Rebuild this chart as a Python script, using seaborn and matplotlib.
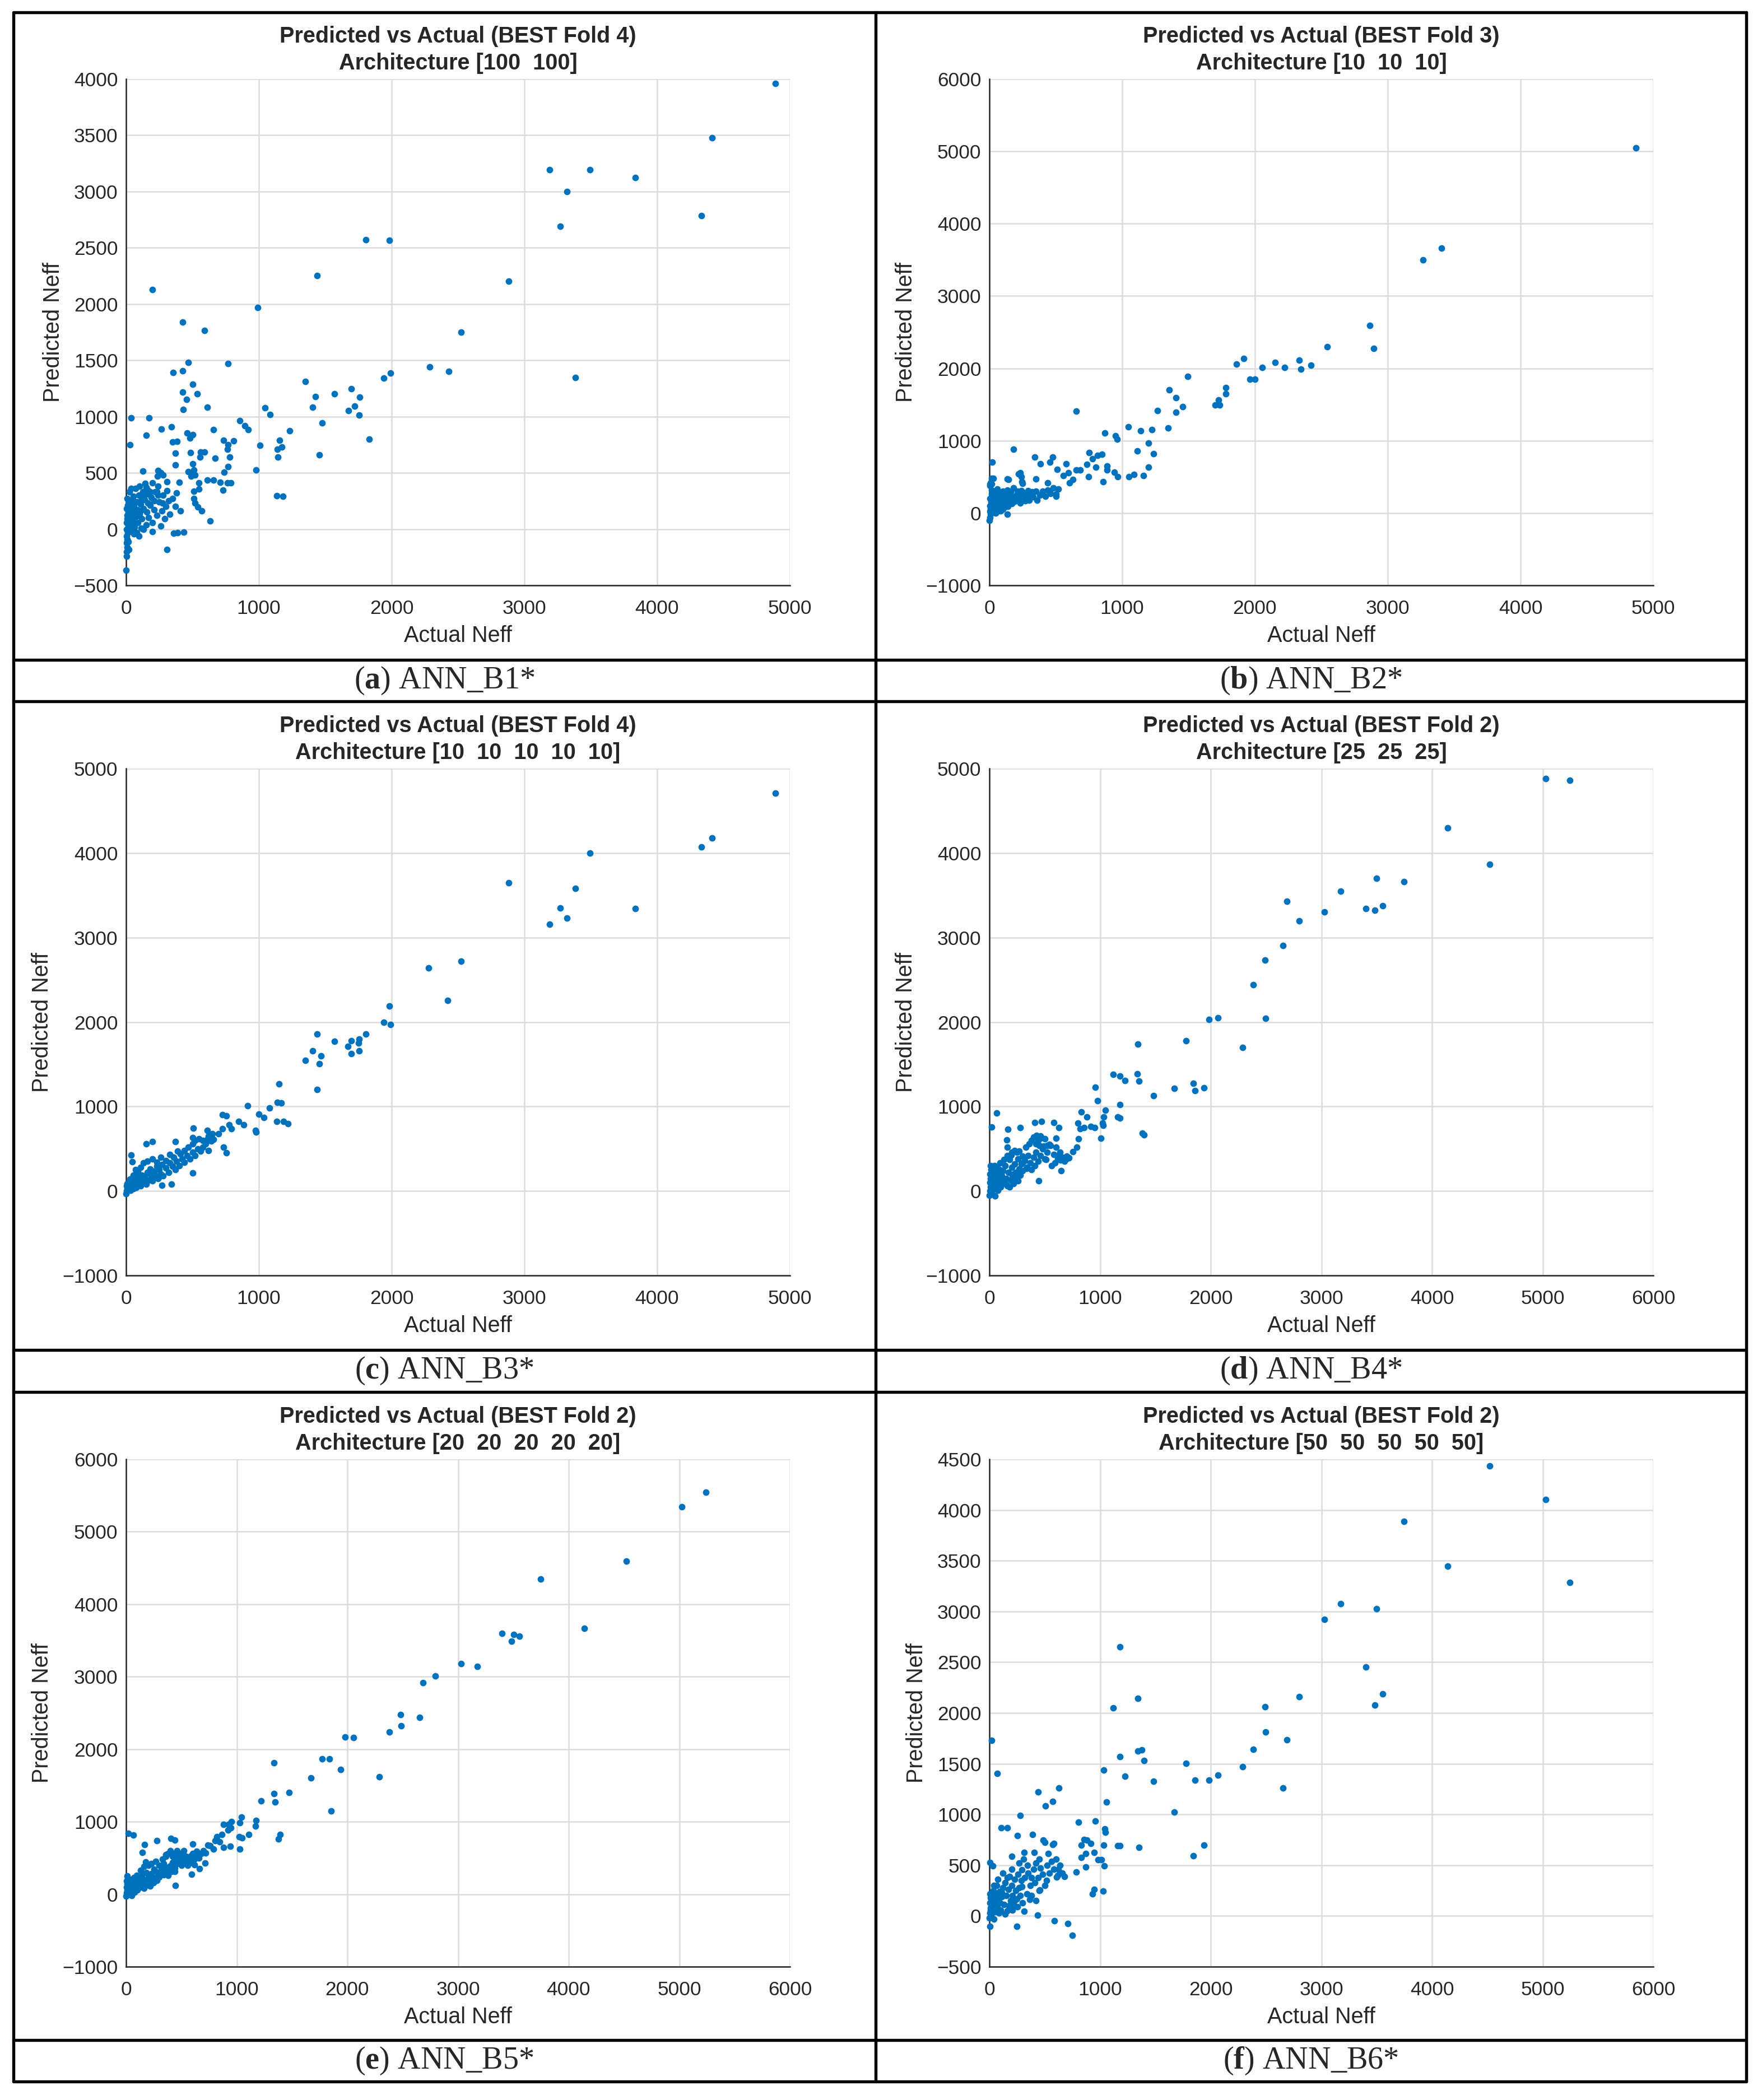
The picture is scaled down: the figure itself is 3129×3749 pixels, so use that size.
import matplotlib
matplotlib.use("Agg")
import matplotlib.pyplot as plt
from matplotlib.lines import Line2D
import seaborn as sns

# --- data: (actual, predicted) per panel ---
a_points = [
    (4890, 3960), (4415, 3475), (4335, 2785), (3835, 3125), (3495, 3195), (3385, 1345),
    (3320, 3000), (3270, 2690), (3190, 3195), (2880, 2205), (2525, 1750), (2430, 1400),
    (2285, 1440), (1985, 2565), (1990, 1385), (1940, 1340), (1805, 2570), (1830, 800),
    (1760, 1175), (1755, 1015), (1720, 1095), (1695, 1245), (1675, 1055), (1570, 1200),
    (1475, 945), (1455, 660), (1440, 2255), (1425, 1180), (1405, 1085), (1350, 1310),
    (1230, 875), (1180, 290), (1175, 730), (1155, 790), (1145, 640), (1140, 710),
    (1135, 295), (1085, 1020), (1045, 1080), (1010, 745), (990, 1970), (980, 525),
    (920, 885), (895, 920), (855, 965), (810, 785), (790, 410), (780, 640), (770, 555),
    (770, 1470), (770, 750), (765, 410), (765, 710), (740, 505), (735, 790), (730, 345),
    (710, 415), (660, 885), (670, 630), (660, 435), (610, 1085), (610, 435), (590, 1765),
    (590, 685), (560, 685), (555, 640), (550, 410), (570, 160), (540, 195), (520, 230),
    (510, 270), (510, 335), (550, 355), (500, 1285), (500, 840), (480, 810), (460, 855),
    (500, 580), (470, 510), (500, 500), (520, 480), (490, 470), (510, 525), (485, 680),
    (470, 1480), (455, 1155), (430, 1065), (425, 1840), (425, 1215), (425, 1405),
    (535, 1200), (355, 1390), (385, 780), (350, 775), (370, 675), (370, 570), (400, 415),
    (340, 910), (265, 890), (175, 990), (150, 835), (40, 990), (30, 750), (200, 2130),
    (240, 520), (235, 470), (125, 515), (145, 405), (635, 70), (360, -35), (435, -25),
    (310, -180), (0, -366),
    (5, -240), (5, -200), (8, -160), (5, -120), (10, -90), (3, -60), (12, -30), (6, 0),
    (15, 30), (4, 60), (10, 90), (8, 120), (18, 150), (5, 180), (12, 210), (20, 250),
    (8, 270), (25, -20), (30, 40), (35, 100), (40, 160), (45, -10), (50, 70), (55, 130),
    (60, 200), (65, 20), (70, 240), (75, 110), (80, -30), (85, 170), (90, 60), (95, 300),
    (100, 130), (110, 220), (115, 10), (120, 90), (125, 330), (130, 180), (140, 260),
    (150, 40), (155, 150), (160, 350), (170, 100), (180, 210), (190, 280), (200, 60),
    (210, 170), (220, 330), (230, 120), (240, 380), (250, 240), (260, 30), (270, 160),
    (280, 300), (290, 90), (300, 200), (310, 340), (320, 250), (330, 130), (350, 270),
    (370, 200), (380, 320), (390, -30), (410, 160), (40, 360), (70, 360), (60, -40),
    (130, 0), (200, -20), (95, -60), (20, -180), (100, 380), (150, 370), (170, 310),
    (200, 410), (230, 330), (260, 500), (280, 480), (180, 330), (240, 300), (310, 420),
    (140, 300), (20, 120), (30, 200), (15, -110), (45, 250), (60, 30), (110, 160),
    (25, 330), (85, 240), (55, 290), (120, 260), (165, 230), (210, 250), (275, 230),
]

b_points = [
    (4870, 5050), (3405, 3660), (3265, 3500), (2865, 2590), (2895, 2275), (2545, 2300),
    (2420, 2040), (2335, 2110), (2345, 1990), (2225, 2010), (2150, 2085), (2055, 2010),
    (2000, 1850), (1960, 1850), (1915, 2135), (1860, 2055), (1780, 1730), (1780, 1650),
    (1725, 1565), (1700, 1495), (1735, 1490), (1495, 1885), (1355, 1705), (1405, 1595),
    (1455, 1470), (1405, 1390), (1265, 1415), (1345, 1175), (1225, 1155), (1140, 1140),
    (1045, 1195), (1200, 970), (1235, 820), (1115, 855), (1200, 635), (1160, 520),
    (1090, 530), (1050, 500), (950, 1070), (960, 1020), (870, 1105), (965, 500), (940, 565),
    (885, 650), (885, 595), (855, 435), (850, 810), (815, 800), (800, 635), (775, 750),
    (750, 835), (745, 500), (735, 670), (655, 1410), (685, 595), (655, 595), (630, 465),
    (605, 420), (580, 680), (595, 555), (555, 515), (510, 605), (500, 235), (475, 775),
    (455, 700), (440, 420), (385, 680), (340, 775), (350, 470), (310, 280), (300, 175),
    (230, 555), (245, 435), (180, 885), (145, 465), (135, -20), (20, 700), (5, 390),
    (15, 480),
    (0, -100), (5, -60), (8, -20), (3, 20), (10, 60), (5, 100), (12, 150), (6, 200),
    (15, 260), (18, 320), (4, 380), (10, 420), (25, 30), (30, 80), (35, 130), (40, 180),
    (45, 0), (50, 110), (55, 220), (60, 60), (65, 150), (70, 260), (75, 100), (80, 180),
    (85, 30), (90, 230), (95, 120), (100, 300), (105, 170), (110, 80), (115, 250),
    (120, 140), (130, 200), (135, 320), (140, 90), (150, 250), (155, 170), (160, 290),
    (170, 130), (175, 210), (180, 350), (190, 160), (200, 240), (210, 300), (215, 190),
    (225, 260), (230, 140), (240, 310), (250, 220), (260, 280), (270, 170), (280, 240),
    (290, 310), (300, 200), (320, 290), (330, 220), (350, 300), (360, 180), (380, 250),
    (400, 300), (420, 230), (440, 320), (460, 270), (480, 350), (500, 260), (520, 330),
    (40, 280), (60, 330), (25, 250), (15, 400), (30, 480), (135, 470), (220, 540),
    (240, 500), (250, 410), (20, 150), (45, 70), (70, 30), (100, 50), (125, 90), (60, 190),
]

c_points = [
    (4890, 4710), (4415, 4180), (4335, 4075), (3835, 3340), (3495, 4000), (3385, 3580),
    (3320, 3230), (3270, 3350), (3190, 3160), (2880, 3650), (2525, 2720), (2420, 2255),
    (2280, 2640), (1985, 2190), (1990, 1970), (1940, 2000), (1805, 1855), (1750, 1750),
    (1755, 1800), (1695, 1775), (1670, 1710), (1695, 1625), (1755, 1660), (1570, 1770),
    (1470, 1600), (1455, 1505), (1440, 1855), (1440, 1200), (1405, 1660), (1350, 1545),
    (1150, 1265), (1140, 1050), (1170, 1045), (1135, 820), (1185, 820), (1220, 795),
    (1080, 980), (1040, 870), (1000, 910), (975, 715), (980, 700), (915, 1010), (885, 785),
    (850, 820), (725, 900), (755, 890), (775, 785), (795, 740), (725, 735), (735, 520),
    (755, 450), (695, 675), (610, 610), (505, 745), (610, 715), (660, 610), (500, 210),
    (370, 585), (200, 585), (150, 560), (40, 425), (45, 345), (340, 80), (270, 65),
    (0, -30), (5, 0), (8, 30), (3, 60), (10, 90), (15, 20), (20, 110), (25, 50), (30, 80),
    (35, 10), (40, 130), (45, 60), (50, 100), (55, 30), (60, 150), (65, 80), (70, 120),
    (75, 40), (80, 170), (90, 90), (100, 140), (110, 60), (120, 190), (130, 110),
    (140, 160), (150, 80), (160, 220), (170, 130), (180, 260), (190, 170), (200, 120),
    (210, 230), (220, 190), (230, 290), (240, 150), (250, 250), (260, 200), (270, 310),
    (280, 180), (300, 270), (320, 220), (330, 330), (350, 290), (370, 250), (380, 350),
    (400, 300), (420, 380), (440, 340), (460, 420), (480, 380), (500, 460), (520, 420),
    (540, 500), (560, 470), (580, 520), (600, 560), (620, 480), (640, 590), (70, 250),
    (90, 230), (110, 280), (130, 330), (160, 350), (200, 380), (230, 340), (260, 400),
    (300, 360), (330, 430), (360, 400), (390, 470), (410, 440), (440, 480), (470, 520),
    (500, 560), (520, 600), (550, 620), (580, 600), (620, 650), (650, 680), (500, 630),
    (15, 70), (30, 140), (55, 190), (85, 60), (120, 100), (180, 200), (250, 170),
]

d_points = [
    (5030, 4880), (5245, 4860), (4140, 4300), (4520, 3865), (3745, 3660), (3500, 3700),
    (3555, 3375), (3485, 3325), (3400, 3345), (3175, 3550), (3030, 3305), (2800, 3195),
    (2690, 3430), (2655, 2905), (2490, 2730), (2495, 2040), (2385, 2440), (2290, 1700),
    (2065, 2050), (1985, 2030), (1940, 1220), (1845, 1275), (1860, 1190), (1775, 1775),
    (1670, 1215), (1485, 1125), (1340, 1735), (1335, 1390), (1350, 1300), (1120, 1380),
    (1180, 1360), (1225, 1310), (1380, 685), (1395, 665), (1180, 1020), (1160, 875),
    (1180, 860), (955, 1230), (975, 1070), (1050, 955), (1035, 875), (1025, 805),
    (1030, 780), (1010, 625), (830, 935), (880, 875), (800, 805), (820, 740), (855, 750),
    (915, 765), (950, 750), (805, 620), (790, 520), (755, 465), (715, 395), (690, 370),
    (645, 365), (650, 240), (630, 750), (580, 810), (470, 820), (410, 810), (600, 625),
    (630, 425), (590, 335), (550, 540), (510, 370), (490, 530), (425, 660), (450, 620),
    (445, 120), (280, 750), (165, 730), (155, 605), (160, 515), (65, 925), (20, 755),
    (195, 425), (250, 460), (300, 330), (335, 265),
    (0, -50), (5, 0), (10, 50), (3, 100), (12, 150), (6, 200), (15, 250), (8, 300),
    (20, -20), (25, 80), (30, 130), (35, 180), (40, 30), (45, 230), (50, -60), (55, 120),
    (60, 60), (65, 170), (70, 270), (75, 10), (80, 140), (85, 200), (90, 90), (95, 330),
    (100, 50), (110, 180), (120, 240), (130, 100), (140, 300), (150, 150), (160, 60),
    (170, 220), (180, 370), (190, 130), (200, 280), (210, 180), (220, 90), (230, 320),
    (240, 220), (250, 150), (260, 380), (270, 260), (280, 190), (290, 320), (300, 240),
    (320, 360), (340, 280), (350, 420), (370, 330), (380, 250), (400, 400), (410, 300),
    (420, 460), (440, 350), (450, 540), (460, 420), (480, 500), (500, 380), (520, 460),
    (540, 550), (560, 300), (580, 430), (600, 520), (620, 380), (640, 460), (660, 400),
    (680, 350), (700, 410), (720, 390), (130, 370), (160, 420), (200, 460), (230, 480),
    (270, 470), (300, 410), (330, 520), (360, 560), (380, 600), (400, 640), (420, 560),
    (440, 600), (460, 650), (470, 630), (500, 620), (520, 540), (30, 40), (60, 110),
    (100, 160), (140, 90), (180, 50), (220, 200), (260, 120), (45, 300), (90, 250),
]

e_points = [
    (5240, 5545), (5025, 5340), (4520, 4590), (3745, 4350), (4140, 3665), (3400, 3600),
    (3505, 3580), (3555, 3555), (3485, 3490), (3175, 3140), (3030, 3180), (2795, 3010),
    (2685, 2920), (2655, 2440), (2480, 2475), (2485, 2325), (2380, 2235), (2290, 1620),
    (2055, 2160), (1980, 2165), (1940, 1720), (1770, 1870), (1840, 1870), (1855, 1150),
    (1670, 1605), (1475, 1400), (1335, 1815), (1335, 1385), (1345, 1275), (1220, 1290),
    (1390, 820), (1375, 760), (1175, 1020), (1170, 940), (1110, 820), (1045, 1060),
    (1030, 985), (1025, 790), (1030, 620), (1050, 775), (950, 1000), (945, 915),
    (925, 965), (880, 965), (920, 885), (865, 820), (845, 725), (880, 645), (940, 665),
    (820, 790), (805, 735), (760, 670), (790, 625), (740, 675), (715, 430), (665, 355),
    (605, 690), (585, 530), (640, 590), (585, 440), (620, 405), (555, 400), (440, 315),
    (445, 120), (590, 275), (405, 770), (440, 745), (280, 740), (165, 685), (20, 835),
    (65, 815), (145, 575), (175, 445), (360, 545), (465, 565), (530, 515), (340, 420),
    (255, 345), (300, 305),
    (0, -30), (5, 20), (10, 60), (3, 100), (12, 140), (6, 180), (15, 220), (8, 250),
    (20, 0), (25, 80), (30, 130), (35, 170), (40, 40), (45, 200), (50, -20), (55, 110),
    (60, 60), (65, 150), (70, 230), (75, 30), (80, 120), (85, 180), (90, 80), (95, 260),
    (100, 60), (110, 160), (120, 210), (130, 100), (140, 250), (150, 140), (160, 80),
    (170, 200), (180, 300), (190, 130), (200, 240), (210, 170), (220, 110), (230, 280),
    (240, 200), (250, 160), (260, 320), (270, 230), (280, 190), (290, 290), (300, 240),
    (320, 330), (340, 270), (350, 380), (370, 320), (380, 260), (400, 390), (410, 310),
    (420, 440), (440, 360), (450, 500), (460, 420), (480, 480), (500, 400), (520, 460),
    (540, 520), (560, 450), (580, 500), (600, 560), (620, 480), (640, 530), (660, 500),
    (680, 560), (700, 600), (720, 570), (130, 330), (160, 380), (200, 400), (230, 420),
    (270, 450), (300, 400), (330, 480), (360, 520), (380, 560), (400, 600), (420, 520),
    (440, 560), (460, 600), (470, 470), (500, 560), (520, 600), (30, 30), (60, 100),
]

f_points = [
    (4520, 4435), (5030, 4100), (3745, 3890), (4140, 3445), (5245, 3285), (3175, 3075),
    (3500, 3025), (3030, 2920), (3400, 2450), (3555, 2185), (3485, 2080), (2800, 2160),
    (2490, 2060), (2495, 1810), (2690, 1735), (2655, 1260), (2385, 1640), (2290, 1470),
    (2065, 1385), (1985, 1340), (1860, 1335), (1775, 1505), (1670, 1025), (1940, 695),
    (1845, 590), (1485, 1325), (1395, 1530), (1340, 1625), (1375, 1635), (1340, 2145),
    (1180, 2650), (1120, 2050), (1180, 1570), (1225, 1375), (1035, 1435), (1060, 1125),
    (1045, 855), (1050, 825), (1160, 690), (1180, 690), (1350, 675), (1035, 700),
    (1040, 495), (1030, 245), (955, 935), (805, 925), (915, 715), (855, 755), (880, 745),
    (830, 700), (870, 615), (830, 575), (945, 625), (980, 555), (1015, 555), (945, 260),
    (930, 215), (870, 480), (785, 430), (750, -190), (710, -75), (680, 390), (625, 460),
    (610, 385), (585, -50), (435, 10), (250, -100), (315, 45), (630, 1260), (570, 1130),
    (505, 1085), (440, 1220), (280, 990), (485, 750), (500, 725), (580, 715), (570, 705),
    (390, 805), (255, 790), (160, 870), (105, 870), (70, 1405), (20, 1730), (5, 525),
    (30, 495), (200, 585), (315, 625), (405, 625), (450, 560), (530, 615), (515, 350),
    (455, 255), (420, 150), (365, 160), (295, 455), (380, 375), (295, 290), (190, 80),
    (5, -100),
    (0, -20), (5, 30), (10, 80), (3, 130), (12, 180), (6, 220), (15, 10), (8, 60),
    (20, 150), (25, 200), (30, 100), (35, 250), (40, -30), (45, 170), (50, 40), (55, 120),
    (60, 210), (65, 300), (70, 90), (75, 360), (80, 160), (85, 30), (90, 240), (95, 130),
    (100, 60), (110, 190), (120, 280), (130, 110), (140, 330), (150, 200), (160, 50),
    (170, 260), (180, 390), (190, 150), (200, 300), (210, 200), (220, 120), (230, 360),
    (240, 250), (250, 170), (260, 410), (270, 280), (280, 200), (290, 350), (300, 130),
    (320, 380), (340, 220), (350, 420), (370, 300), (380, 200), (400, 460), (410, 330),
    (420, 520), (440, 380), (450, 250), (460, 470), (480, 410), (500, 300), (520, 500),
    (540, 420), (560, 540), (580, 460), (600, 560), (620, 400), (640, 500), (660, 420),
    (120, 420), (160, 380), (200, 460), (230, 150), (270, 520), (310, 560), (345, 500),
    (40, 300), (75, 200), (110, 230), (140, 20), (175, 100), (210, 60), (255, 90),
]

titles = [
    "Predicted vs Actual (BEST Fold 4)\nArchitecture [100  100]",
    "Predicted vs Actual (BEST Fold 3)\nArchitecture [10  10  10]",
    "Predicted vs Actual (BEST Fold 4)\nArchitecture [10  10  10  10  10]",
    "Predicted vs Actual (BEST Fold 2)\nArchitecture [25  25  25]",
    "Predicted vs Actual (BEST Fold 2)\nArchitecture [20  20  20  20  20]",
    "Predicted vs Actual (BEST Fold 2)\nArchitecture [50  50  50  50  50]",
]
letters = ["a", "b", "c", "d", "e", "f"]
models = ["ANN_B1*", "ANN_B2*", "ANN_B3*", "ANN_B4*", "ANN_B5*", "ANN_B6*"]
x_max = [5000, 5000, 5000, 6000, 6000, 6000]
y_ticks = [
    list(range(-500, 4001, 500)),
    list(range(-1000, 6001, 1000)),
    list(range(-1000, 5001, 1000)),
    list(range(-1000, 5001, 1000)),
    list(range(-1000, 6001, 1000)),
    list(range(-500, 4501, 500)),
]
all_points = [a_points, b_points, c_points, d_points, e_points, f_points]

# --- layout (pixels of the 3129 x 3749 canvas) ---
W, H, DPI = 3129, 3749, 300
BLUE = "#0072BD"
DARK = "#262626"

sns.set_style("white")
plt.rcParams["font.family"] = ["Liberation Sans", "DejaVu Sans"]
plt.rcParams["mathtext.fontset"] = "custom"
plt.rcParams["mathtext.rm"] = "Liberation Serif"
plt.rcParams["mathtext.bf"] = "Liberation Serif:bold"

fig = plt.figure(figsize=(W / DPI, H / DPI), dpi=DPI)

col_x = [(225, 1410), (1766, 2951)]
row_y = [(141, 1045), (1372, 2277), (2605, 3511)]
cap_y = [1215, 2447, 3679]
cap_x = [793, 2340]

for i, pts in enumerate(all_points):
    r, c = divmod(i, 2)
    x0, x1 = col_x[c]
    y0, y1 = row_y[r]
    ax = fig.add_axes([x0 / W, 1 - y1 / H, (x1 - x0) / W, (y1 - y0) / H])
    xs = [p[0] for p in pts]
    ys = [p[1] for p in pts]
    sns.scatterplot(x=xs, y=ys, ax=ax, color=BLUE, s=8, linewidth=0,
                    legend=False, clip_on=False, zorder=3)
    ax.set_xlim(0, x_max[i])
    ax.set_ylim(y_ticks[i][0], y_ticks[i][-1])
    ax.set_xticks(list(range(0, x_max[i] + 1, 1000)))
    ax.set_yticks(y_ticks[i])
    ax.grid(True, color="#dcdcdc", lw=0.6)
    ax.set_axisbelow(True)
    for s in ["top", "right"]:
        ax.spines[s].set_visible(False)
    for s in ["left", "bottom"]:
        ax.spines[s].set_color(DARK)
        ax.spines[s].set_linewidth(0.6)
    ax.tick_params(direction="in", length=3, width=0.6, colors=DARK, labelsize=8.5)
    ax.tick_params(axis="x", pad=6)
    ax.tick_params(axis="y", pad=3.5)
    ax.set_xlabel("Actual Neff", fontsize=9.5, color=DARK, labelpad=3)
    ax.set_ylabel("Predicted Neff", fontsize=9.5, color=DARK, labelpad=4)
    ax.set_title(titles[i], fontsize=9.5, fontweight="bold", linespacing=1.35, pad=4)

    fig.text(cap_x[c] / W, 1 - cap_y[r] / H,
             "($\\mathbf{" + letters[i] + "}$) " + models[i],
             family="Liberation Serif", fontsize=13.5, ha="center", va="center")

# table frame
lw = 1.3
for yy in [22, 1178, 1252, 2410, 2485, 3642, 3716]:
    fig.add_artist(Line2D([24 / W, 3117 / W], [1 - yy / H, 1 - yy / H], color="black", lw=lw))
for xx in [24, 1563, 3117]:
    fig.add_artist(Line2D([xx / W, xx / W], [1 - 22 / H, 1 - 3716 / H], color="black", lw=lw))

fig.savefig("out.png", dpi=DPI, facecolor="white")
